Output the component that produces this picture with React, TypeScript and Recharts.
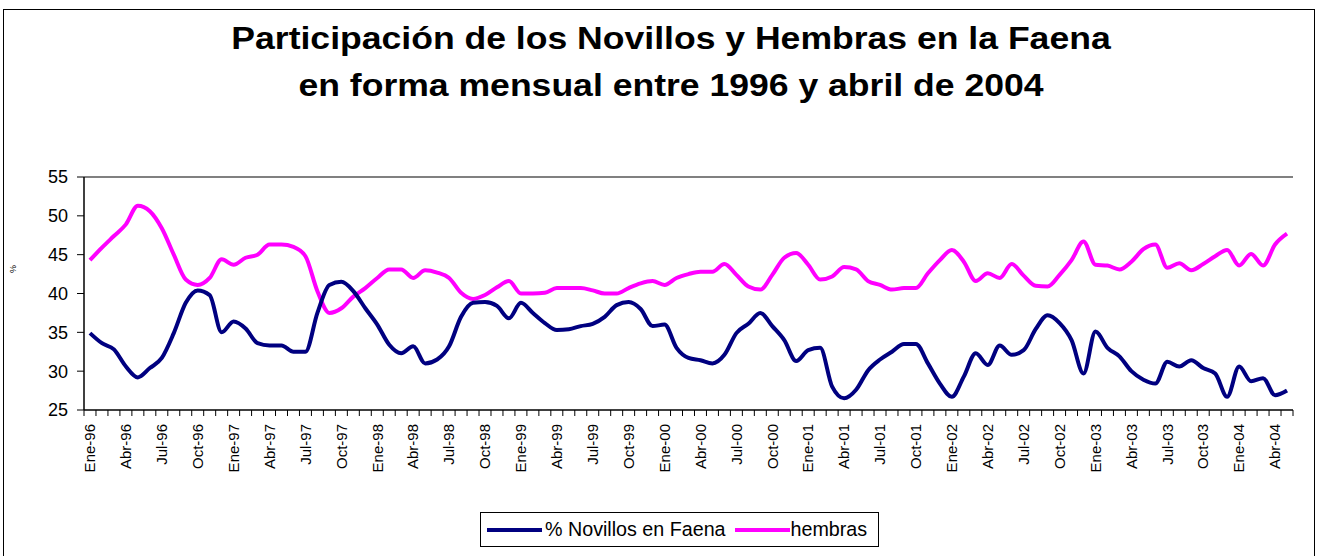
import { LineChart, Line, XAxis, YAxis, ReferenceLine } from "recharts";

const months = ["Ene", "Feb", "Mar", "Abr", "May", "Jun", "Jul", "Ago", "Sep", "Oct", "Nov", "Dic"];
const years = ["96", "97", "98", "99", "00", "01", "02", "03", "04"];
const lastMonthCount = 5; // 2004 runs Ene..May

const novillos = [
    34.9, 33.6, 32.8, 30.6, 29.2, 30.4, 31.7, 34.9, 38.8, 40.4,
    39.8, 35.0, 36.4, 35.5, 33.6, 33.3, 33.3, 32.5, 32.5, 37.5,
    41.1, 41.5, 40.3, 38.1, 36.0, 33.4, 32.3, 33.2, 31.0, 31.5,
    33.2, 37.0, 38.8, 38.9, 38.4, 36.8, 38.8, 37.5, 36.2, 35.3,
    35.4, 35.8, 36.1, 37.0, 38.5, 38.9, 38.0, 35.8, 36.0, 33.0,
    31.7, 31.4, 31.0, 32.1, 34.9, 36.1, 37.5, 35.8, 34.0, 31.3,
    32.7, 33.0, 28.0, 26.5, 27.6, 30.1, 31.5, 32.5, 33.5, 33.5,
    31.0, 28.4, 26.7, 29.3, 32.3, 30.8, 33.3, 32.1, 32.7, 35.4,
    37.2, 36.2, 34.0, 29.7, 35.1, 33.0, 31.9, 30.0, 28.9, 28.4,
    31.2, 30.6, 31.4, 30.4, 29.7, 26.7, 30.6, 28.7, 29.1, 26.9, 27.5,
];

const hembras = [
    44.3, 45.9, 47.4, 48.9, 51.3, 50.6, 48.4, 45.0, 41.8, 41.1,
    42.0, 44.4, 43.7, 44.6, 45.0, 46.3, 46.3, 46.0, 44.8, 40.3,
    37.5, 38.1, 39.6, 40.7, 42.0, 43.1, 43.1, 42.0, 43.0, 42.7,
    42.0, 40.1, 39.3, 39.8, 40.8, 41.6, 40.0, 40.0, 40.1, 40.7,
    40.7, 40.7, 40.4, 40.0, 40.0, 40.7, 41.3, 41.6, 41.1, 42.0,
    42.5, 42.8, 42.8, 43.8, 42.4, 40.9, 40.5, 42.4, 44.6, 45.2,
    43.7, 41.8, 42.2, 43.4, 43.1, 41.6, 41.1, 40.5, 40.7, 40.7,
    42.6, 44.3, 45.6, 44.1, 41.6, 42.6, 42.0, 43.8, 42.3, 41.0,
    40.9, 42.4, 44.3, 46.7, 43.7, 43.6, 43.1, 44.1, 45.7, 46.3,
    43.3, 43.9, 43.0, 43.8, 44.8, 45.6, 43.6, 45.1, 43.6, 46.3, 47.7,
];

const yTicks = [25, 30, 35, 40, 45, 50, 55];

const labels: string[] = [];
years.forEach((yr, yi) => {
    const count = yi === years.length - 1 ? lastMonthCount : 12;
    for (let m = 0; m < count; m++) labels.push(`${months[m]}-${yr}`);
});

const data = labels.map((label, i) => ({
    label,
    novillos: novillos[i],
    hembras: hembras[i],
}));

const W = 1318;
const H = 556;
const PLOT_LEFT = 84;
const PLOT_RIGHT = 1293;
const PLOT_TOP = 177;
const PLOT_BOTTOM = 410;
const BAND = (PLOT_RIGHT - PLOT_LEFT) / labels.length;
const FONT = "'Liberation Sans', Arial, sans-serif";

const NAVY = "#000080";
const MAGENTA = "#ff00ff";

function XTick(props: any) {
    const { x, y, payload } = props;
    const i = payload.index;
    const half = BAND / 2;
    return (
        <g>
            <line x1={x - half} x2={x - half} y1={y} y2={y + 6} stroke="#000" />
            {i === labels.length - 1 && (
                <line x1={x + half} x2={x + half} y1={y} y2={y + 6} stroke="#000" />
            )}
            {i % 3 === 0 && (
                <text
                    x={x}
                    y={y + 14}
                    transform={`rotate(-90, ${x}, ${y + 14})`}
                    textAnchor="end"
                    dy="0.35em"
                    fontSize={15}
                    fontFamily={FONT}
                    fill="#000"
                >
                    {payload.value}
                </text>
            )}
        </g>
    );
}

export default function App() {
    return (
        <div style={{ position: "absolute", left: 0, top: 0, width: W, height: H, background: "#fff", fontFamily: FONT, overflow: "hidden" }}>
            {/* outer frame */}
            <div style={{ position: "absolute", left: 3, top: 9, width: 1310, height: 600, border: "1px solid #000" }} />

            {/* Title */}
            <div
                style={{
                    position: "absolute",
                    left: 0,
                    top: 15,
                    width: 1342,
                    textAlign: "center",
                    fontWeight: "bold",
                    fontSize: 31,
                    lineHeight: "47px",
                    color: "#000",
                    transform: "scaleX(1.147)",
                    transformOrigin: "671px 0",
                }}
            >
                Participación de los Novillos y Hembras en la Faena
                <br />
                en forma mensual entre 1996 y abril de 2004
            </div>

            {/* clipped axis title */}
            <svg style={{ position: "absolute", left: 0, top: 0 }} width={30} height={556}>
                <text x={16} y={269} transform="rotate(-90, 16, 269)" fontSize={9} fontFamily={FONT} textAnchor="middle">
                    %
                </text>
            </svg>

            <div style={{ position: "absolute", left: 0, top: 0 }}>
                <LineChart
                    width={W}
                    height={H}
                    data={data}
                    margin={{ top: PLOT_TOP, right: W - PLOT_RIGHT, bottom: 10, left: PLOT_LEFT - 60 }}
                >
                    <ReferenceLine y={55} stroke="#808080" strokeWidth={2} ifOverflow="visible" />
                    <XAxis
                        dataKey="label"
                        interval={0}
                        height={H - PLOT_BOTTOM - 10}
                        padding={{ left: BAND / 2, right: BAND / 2 }}
                        tickLine={false}
                        tickSize={0}
                        tickMargin={0}
                        axisLine={{ stroke: "#000", strokeWidth: 1.5 }}
                        tick={<XTick />}
                    />
                    <YAxis
                        domain={[25, 55]}
                        ticks={yTicks}
                        width={60}
                        tickSize={7}
                        tickMargin={9}
                        axisLine={{ stroke: "#000", strokeWidth: 1.5 }}
                        tickLine={{ stroke: "#000" }}
                        tick={{ fill: "#000", fontSize: 18, fontFamily: FONT }}
                    />
                    <YAxis
                        yAxisId="right"
                        orientation="right"
                        width={0}
                        domain={[25, 55]}
                        tick={false}
                        tickLine={false}
                        axisLine={{ stroke: "#808080", strokeWidth: 2 }}
                    />
                    <Line
                        type="monotone"
                        dataKey="hembras"
                        stroke={MAGENTA}
                        strokeWidth={4}
                        dot={false}
                        isAnimationActive={false}
                    />
                    <Line
                        type="monotone"
                        dataKey="novillos"
                        stroke={NAVY}
                        strokeWidth={4}
                        dot={false}
                        isAnimationActive={false}
                    />
                </LineChart>
            </div>

            {/* Legend */}
            <div
                style={{
                    position: "absolute",
                    left: 480,
                    top: 512,
                    width: 397,
                    height: 33,
                    border: "1px solid #000",
                    display: "flex",
                    alignItems: "center",
                    fontSize: 19.7,
                    color: "#000",
                    boxSizing: "content-box",
                }}
            >
                <div style={{ width: 55, height: 4, background: NAVY, marginLeft: 6, marginRight: 3 }} />
                <span>% Novillos en Faena</span>
                <div style={{ width: 55, height: 4, background: MAGENTA, marginLeft: 9, marginRight: 1 }} />
                <span>hembras</span>
            </div>
        </div>
    );
}
